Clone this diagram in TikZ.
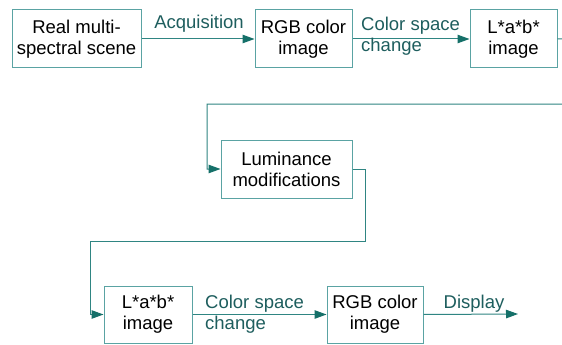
\documentclass[tikz,border=0pt]{standalone}
\usepackage{fontspec}
\setmainfont{Liberation Sans}
\usetikzlibrary{arrows.meta}
\definecolor{boxline}{HTML}{5AA3A3}
\definecolor{conn}{HTML}{2F8582}
\definecolor{tip}{HTML}{157069}
\definecolor{lbl}{HTML}{1E5E5E}
\tikzset{
  stagebox/.style={draw=boxline, line width=1pt, fill=white, align=center, inner sep=0pt,
    font=\fontsize{18.5}{21}\selectfont, text=black},
  conline/.style={draw=conn, line width=1pt},
  arr/.style={conline, -{Triangle[length=12pt,width=8.5pt,fill=tip,color=tip]}},
  lab/.style={text=lbl, font=\fontsize{18.5}{21}\selectfont, inner sep=0pt, align=left},
}
\begin{document}
\begin{tikzpicture}[x=1pt,y=-1pt]
\useasboundingbox (0,0) rectangle (562,345);
\clip (0,0) rectangle (562,345);
\fill[white] (0,0) rectangle (562,345);
% boxes
\node[stagebox, minimum width=129pt, minimum height=58pt] (scene) at (76.5,39) {Real multi-\\spectral scene};
\node[stagebox, minimum width=97pt, minimum height=58pt] (rgb1) at (303.5,39) {RGB color\\image};
\node[stagebox, minimum width=87pt, minimum height=58pt] (lab1) at (513.5,39) {L*a*b*\\image};
\node[stagebox, minimum width=131pt, minimum height=58pt] (lum) at (286.5,169) {Luminance\\modifications};
\node[stagebox, minimum width=88pt, minimum height=57pt] (lab2) at (148,314.5) {L*a*b*\\image};
\node[stagebox, minimum width=96pt, minimum height=57pt] (rgb2) at (375,314.5) {RGB color\\image};
% coordinates
\coordinate (outR) at (600,38);
\coordinate (outRb) at (600,104);
\coordinate (fbL) at (207,104);
\coordinate (dispEnd) at (518,314);
% connectors
\draw[arr] (scene) -- (rgb1);
\draw[arr] (rgb1) -- (lab1);
\draw[arr] (lab1.east) -- (outR) -- (outRb) -- (fbL) |- (lum.west);
\draw[arr] (lum.east) -- ++(13,0) |- (90,241) |- (lab2.west);
\draw[arr] (lab2) -- (rgb2);
\draw[arr] (rgb2.east) -- (dispEnd);
% labels
\node[lab, anchor=south] (acq) at (199,33) {Acquisition};
\node[lab, anchor=base west] (csc1) at (361,31) {Color space};
\node[lab, anchor=base west] (chg1) at (361,52) {change};
\node[lab, anchor=base west] (csc2) at (205,308) {Color space};
\node[lab, anchor=base west] (chg2) at (205,329) {change};
\node[lab, anchor=base] (disp) at (474,308) {Display};
\end{tikzpicture}
\end{document}
